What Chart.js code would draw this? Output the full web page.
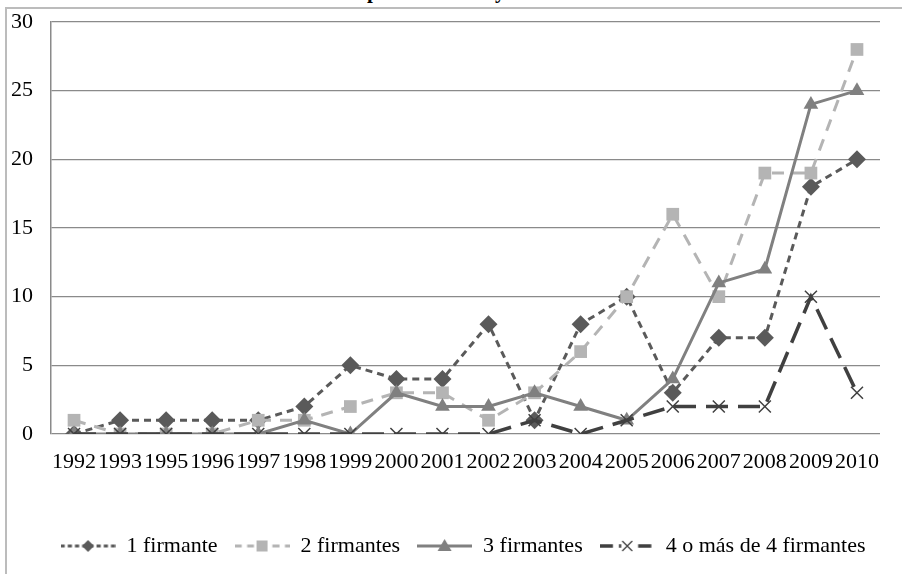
<!DOCTYPE html>
<html>
<head>
<meta charset="utf-8">
<script src="https://cdn.jsdelivr.net/npm/chart.js@4.4.1/dist/chart.umd.min.js"></script>
<style>
html, body { margin: 0; padding: 0; background: #fff; overflow: hidden; }
#wrap { position: relative; width: 902px; height: 574px; overflow: hidden; }
#frame { position: absolute; left: 5px; top: 7px; width: 1000px; height: 1000px; border: 2px solid #bcbcbc; }
#title { position: absolute; left: 179px; top: -19px; font: bold 21px "Liberation Serif", serif; line-height: 21px; white-space: nowrap; color: #000; }
canvas { position: absolute; left: 0; top: 0; }
</style>
</head>
<body>
<div id="wrap">
  <div id="title">Número de artículos por firmantes y año</div>
  <div id="frame"></div>
  <canvas id="chart" width="902" height="574" style="width:902px;height:574px"></canvas>
</div>
<script>
// Years (1994 is absent in the source)
let years = ["1992", "1993", "1995", "1996", "1997", "1998", "1999", "2000", "2001",
    "2002", "2003", "2004", "2005", "2006", "2007", "2008", "2009", "2010"];

let seriesNames = ["1 firmante", "2 firmantes", "3 firmantes", "4 o más de 4 firmantes"];

let firmante1 = [0, 1, 1, 1, 1, 2, 5, 4, 4, 8, 1, 8, 10, 3, 7, 7, 18, 20];
let firmantes2 = [1, 0, 0, 0, 1, 1, 2, 3, 3, 1, 3, 6, 10, 16, 10, 19, 19, 28];
let firmantes3 = [0, 0, 0, 0, 0, 1, 0, 3, 2, 2, 3, 2, 1, 4, 11, 12, 24, 25];
let firmantes4 = [0, 0, 0, 0, 0, 0, 0, 0, 0, 0, 1, 0, 1, 2, 2, 2, 10, 3];

let yMin = 0;
let yMax = 30;
let yStep = 5;

// look of each series: color, dash, marker
let styles = [
    { color: "#5a5a5a", dash: [7, 5], marker: "rectRot", radius: 9, width: 3 },
    { color: "#b4b4b4", dash: [12, 9], marker: "rect", radius: 9, width: 3 },
    { color: "#808080", dash: [], marker: "triangle", radius: 8.5, width: 3 },
    { color: "#404040", dash: [22, 10], marker: "crossRot", radius: 8.5, width: 3.5 }
];

// small canvas used as legend sample (line + marker)
function legendIcon(st) {
    let c = document.createElement("canvas");
    c.width = 55;
    c.height = 20;
    let ctx = c.getContext("2d");
    ctx.strokeStyle = st.color;
    ctx.fillStyle = st.color;
    ctx.lineWidth = st.width;
    ctx.setLineDash(st.dash.map(d => d * 0.6));
    ctx.beginPath();
    ctx.moveTo(0, 10);
    ctx.lineTo(55, 10);
    ctx.stroke();
    ctx.setLineDash([]);
    let cx = 27.5, cy = 10;
    ctx.beginPath();
    if (st.marker === "rectRot") {
        ctx.moveTo(cx - 6, cy); ctx.lineTo(cx, cy - 6); ctx.lineTo(cx + 6, cy); ctx.lineTo(cx, cy + 6);
        ctx.closePath(); ctx.fill();
    } else if (st.marker === "rect") {
        ctx.fillStyle = "#fff";
        ctx.fillRect(cx - 8, cy - 7, 16, 14);
        ctx.fillStyle = st.color;
        ctx.fillRect(cx - 5.5, cy - 5.5, 11, 11);
    } else if (st.marker === "triangle") {
        ctx.moveTo(cx, cy - 7); ctx.lineTo(cx + 7, cy + 5); ctx.lineTo(cx - 7, cy + 5);
        ctx.closePath(); ctx.fill();
    } else {
        ctx.fillStyle = "#fff";
        ctx.fillRect(cx - 6, cy - 6, 12, 12);
        ctx.lineWidth = 1.3;
        ctx.moveTo(cx - 5, cy - 5); ctx.lineTo(cx + 5, cy + 5);
        ctx.moveTo(cx + 5, cy - 5); ctx.lineTo(cx - 5, cy + 5);
        ctx.stroke();
    }
    return c;
}

function makeDataset(i, values) {
    let st = styles[i];
    return {
        label: seriesNames[i],
        data: values,
        borderColor: st.color,
        backgroundColor: st.color,
        borderWidth: st.width,
        borderDash: st.dash,
        pointStyle: st.marker,
        pointRadius: st.radius,
        pointBorderWidth: st.marker === "crossRot" ? 1.5 : 0,
        pointBorderColor: st.color,
        pointBackgroundColor: st.color,
        tension: 0,
        order: 4 - i   // later series drawn on top, like the original
    };
}

// the legend sits a bit right of the plot centre in the original
const shiftLegend = {
    id: "shiftLegend",
    afterLayout(chart) {
        chart.legend.left += 19;
        chart.legend.right += 19;
    }
};

Chart.defaults.font.family = '"Liberation Serif", "Times New Roman", serif';
Chart.defaults.font.size = 22;
Chart.defaults.color = "#000";

let icons = styles.map(legendIcon);

new Chart(document.getElementById("chart").getContext("2d"), {
    type: "line",
    data: {
        labels: years,
        datasets: [
            makeDataset(0, firmante1),
            makeDataset(1, firmantes2),
            makeDataset(2, firmantes3),
            makeDataset(3, firmantes4)
        ]
    },
    plugins: [shiftLegend],
    options: {
        responsive: false,
        animation: false,
        layout: { padding: { left: 8, right: 22, top: 22, bottom: 7 } },
        plugins: {
            tooltip: { enabled: false },
            legend: {
                position: "bottom",
                labels: {
                    usePointStyle: true,
                    pointStyleWidth: 55,
                    padding: 17,
                    font: { size: 22 },
                    sort: (a, b) => a.datasetIndex - b.datasetIndex,
                    generateLabels: function (chart) {
                        let items = Chart.defaults.plugins.legend.labels.generateLabels(chart);
                        items.forEach(it => {
                            it.pointStyle = icons[it.datasetIndex];
                            it.lineWidth = 0;
                        });
                        return items;
                    }
                }
            }
        },
        scales: {
            x: {
                offset: true,
                grid: { display: false, drawTicks: false },
                border: { display: false },
                ticks: { autoSkip: false, maxRotation: 0, minRotation: 0, padding: 15 },
                afterFit: function (axis) { axis.height = 84; }
            },
            y: {
                min: yMin,
                max: yMax,
                ticks: { stepSize: yStep, padding: 0 },
                grid: { color: "#8a8a8a", lineWidth: 1.3, drawTicks: true, tickLength: 18, tickColor: "rgba(0,0,0,0)" },
                border: { display: true, color: "#8a8a8a", width: 1.5 },
                afterFit: function (axis) { axis.width = 43; }
            }
        }
    }
});
</script>
</body>
</html>
